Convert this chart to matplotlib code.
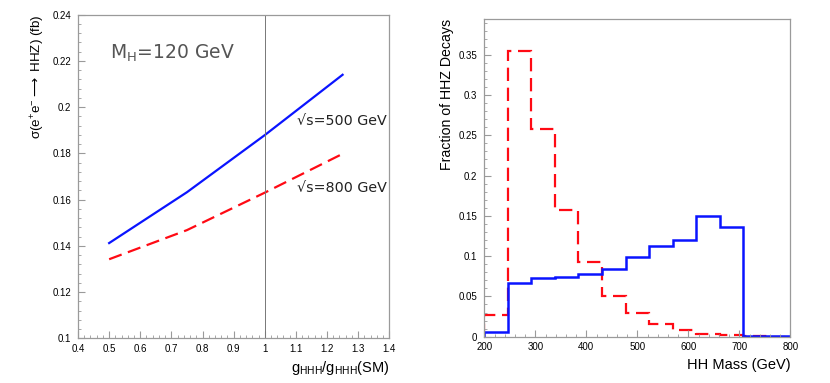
import numpy as np
import matplotlib
matplotlib.use('Agg')
import matplotlib.pyplot as plt
from matplotlib.ticker import MultipleLocator

plt.rcParams['font.family'] = ['Liberation Sans', 'DejaVu Sans']

# left panel: cross section vs trilinear coupling
g_ratio = [0.5, 0.75, 1.0, 1.25]
xsec_500 = [0.1412, 0.1632, 0.1879, 0.2140]
xsec_800 = [0.1342, 0.1468, 0.1630, 0.1798]

# right panel: HH mass distribution, 13 bins from 200 to 800 GeV
mass_edges = np.linspace(200, 800, 14)
frac_500 = [0.0054, 0.0665, 0.0727, 0.0736, 0.0782, 0.0843, 0.0985, 0.1128,
            0.1198, 0.1495, 0.1358, 0.0008, 0.0004]
frac_800 = [0.0264, 0.3545, 0.2578, 0.1574, 0.0926, 0.0508, 0.0300, 0.0160,
            0.0078, 0.0038, 0.0015, 0.0004, 0.0001]

blue = '#0a14ff'
red = '#ff0a14'
frame = '#9a9a9a'

fig = plt.figure(figsize=(8.30, 3.83), dpi=100)
ax1 = fig.add_axes([0.094, 0.1167, 0.375, 0.845])
ax2 = fig.add_axes([0.5835, 0.1209, 0.3687, 0.8287])

for ax in (ax1, ax2):
    for s in ax.spines.values():
        s.set_color(frame)
        s.set_linewidth(0.9)
    ax.tick_params(which='both', direction='in', color=frame, labelsize=7,
                   top=False, right=False)
    ax.tick_params(which='major', length=5)
    ax.tick_params(which='minor', length=2.5)
    ax.tick_params(axis='y', pad=5)
    ax.tick_params(axis='x', pad=4)

# left
ax1.plot(g_ratio, xsec_500, color=blue, lw=1.6)
ax1.plot(g_ratio, xsec_800, color=red, lw=1.6, dashes=(6, 3))
ax1.axvline(1.0, color='#777777', lw=0.7)
ax1.set_xlim(0.4, 1.4)
ax1.set_ylim(0.1, 0.24)
ax1.xaxis.set_major_locator(MultipleLocator(0.1))
ax1.xaxis.set_minor_locator(MultipleLocator(0.02))
ax1.yaxis.set_major_locator(MultipleLocator(0.02))
ax1.yaxis.set_minor_locator(MultipleLocator(0.004))
ax1.set_xticks(np.arange(0.4, 1.41, 0.1))
ax1.set_xticklabels(['0.4', '0.5', '0.6', '0.7', '0.8', '0.9', '1', '1.1', '1.2', '1.3', '1.4'])
ax1.set_yticks(np.arange(0.1, 0.241, 0.02))
ax1.set_yticklabels(['0.1', '0.12', '0.14', '0.16', '0.18', '0.2', '0.22', '0.24'])
ax1.text(0.503, 0.2234, r'M$_\mathregular{H}$=120 GeV', fontsize=13.5, color='#555555',
         va='center', family='DejaVu Sans')
ax1.text(1.1035, 0.194, '√s=500 GeV', fontsize=10.3, color='#222222', va='center',
         family='DejaVu Sans')
ax1.text(1.1035, 0.165, '√s=800 GeV', fontsize=10.3, color='#222222', va='center',
         family='DejaVu Sans')
ax1.set_ylabel(r'σ(e$^\mathregular{+}$e$^\mathregular{-}$$\longrightarrow$ HHZ) (fb)', fontsize=9.6,
               loc='top', labelpad=4)
ax1.set_xlabel(r'g$_\mathregular{HHH}$/g$_\mathregular{HHH}$(SM)', fontsize=10.5, loc='right', labelpad=4)

# right
ax2.stairs(frac_800, mass_edges, color=red, lw=1.6, linestyle=(0, (6, 3)), baseline=0)
ax2.stairs(frac_500, mass_edges, color=blue, lw=1.8, baseline=0)
ax2.set_xlim(200, 800)
ax2.set_ylim(0, 0.394)
ax2.xaxis.set_major_locator(MultipleLocator(100))
ax2.xaxis.set_minor_locator(MultipleLocator(20))
ax2.yaxis.set_major_locator(MultipleLocator(0.05))
ax2.yaxis.set_minor_locator(MultipleLocator(0.01))
ax2.set_yticks(np.arange(0, 0.36, 0.05))
ax2.set_yticklabels(['0', '0.05', '0.1', '0.15', '0.2', '0.25', '0.3', '0.35'])
ax2.set_ylabel('Fraction of HHZ Decays', fontsize=10.2, loc='top', labelpad=3)
ax2.set_xlabel('HH Mass (GeV)', fontsize=10.5, loc='right', labelpad=4)

fig.savefig('out.png', dpi=100)
